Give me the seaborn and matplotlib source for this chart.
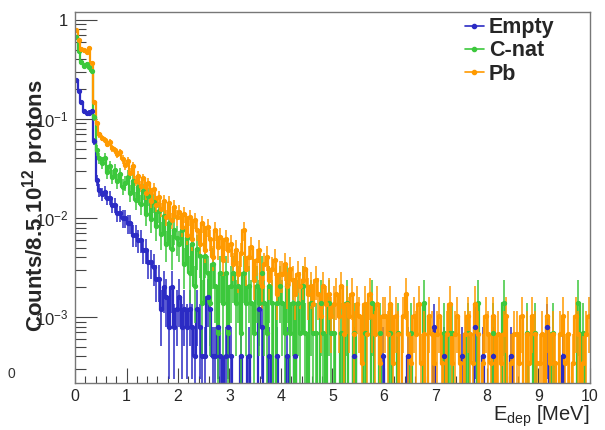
import numpy as np
import pandas as pd
import matplotlib
matplotlib.use("Agg")
import matplotlib.pyplot as plt
from matplotlib.lines import Line2D
from matplotlib.ticker import FixedLocator, MultipleLocator, NullFormatter
import seaborn as sns

# === 1. Data: raw counts per 0.05 MeV bin (0-10 MeV) ===
pb_counts = [
    2350, 1850, 1500, 1450, 1400, 1520, 1090, 440, 265, 205, 188, 180, 165, 172, 150, 142, 130, 135, 115, 100,
    110, 84, 98, 70, 78, 62, 74, 52, 66, 44, 58, 40, 48, 36, 44, 30, 42, 28, 38, 30,
    34, 24, 32, 20, 30, 18, 28, 22, 16, 26, 14, 24, 18, 12, 22, 15, 19, 11, 18, 14,
    16, 10, 14, 8, 13, 22, 9, 12, 15, 7, 11, 14, 6, 10, 12, 7, 9, 11, 5, 8,
    8, 10, 6, 9, 7, 5, 8, 6, 7, 9, 5, 6, 4, 7, 5, 3, 6, 4, 5, 3,
    4, 5, 3, 6, 2, 4, 3, 5, 2, 4, 3, 1, 4, 2, 5, 3, 2, 4, 1, 3,
    3, 2, 4, 1, 3, 2, 0, 3, 5, 2, 1, 3, 2, 4, 1, 2, 0, 3, 2, 1,
    2, 3, 1, 0, 2, 4, 1, 2, 3, 1, 0, 2, 3, 2, 1, 4, 2, 0, 1, 3,
    2, 1, 3, 0, 2, 1, 2, 3, 0, 1, 2, 2, 1, 3, 0, 2, 1, 3, 2, 1,
    1, 2, 0, 3, 1, 2, 1, 0, 2, 3, 1, 2, 0, 1, 3, 2, 0, 1, 2, 3,
]
cnat_counts = [
    970, 700, 540, 500, 520, 480, 440, 150, 70, 58, 52, 58, 42, 48, 38, 44, 34, 40, 30, 33,
    38, 26, 34, 22, 30, 20, 27, 16, 24, 14, 21, 12, 17, 10, 15, 8, 13, 7, 11, 9,
    8, 11, 5, 9, 4, 8, 3, 7, 6, 2, 6, 4, 2, 5, 3, 1, 4, 2, 4, 1,
    3, 4, 2, 3, 1, 4, 2, 3, 2, 1, 3, 2, 4, 2, 1, 3, 2, 0, 2, 3,
    2, 1, 3, 1, 2, 0, 2, 1, 3, 1, 0, 2, 1, 1, 0, 2, 1, 0, 2, 1,
    1, 0, 0, 1, 0, 2, 0, 0, 1, 0, 0, 0, 1, 0, 0, 2, 0, 0, 1, 0,
    0, 0, 1, 0, 0, 1, 0, 0, 0, 0, 1, 0, 0, 0, 0, 2, 0, 0, 0, 0,
    0, 0, 0, 1, 0, 1, 1, 0, 0, 0, 0, 0, 1, 0, 0, 0, 2, 0, 0, 0,
    0, 0, 1, 0, 0, 0, 2, 0, 0, 0, 0, 0, 0, 0, 0, 1, 0, 0, 1, 0,
    0, 0, 0, 0, 0, 1, 0, 0, 0, 0, 0, 0, 0, 0, 0, 2, 0, 1, 0, 0,
]
empty_counts = [
    620, 480, 370, 300, 285, 290, 300, 150, 60, 48, 44, 46, 40, 40, 34, 34, 28, 28, 25, 25,
    22, 22, 17, 17, 15, 15, 12, 12, 9, 9, 8, 6, 6, 3, 5, 4, 2, 5, 2, 3,
    4, 2, 3, 2, 3, 2, 1, 3, 2, 1, 1, 4, 3, 1, 1, 2, 1, 0, 1, 2,
    1, 0, 0, 0, 1, 0, 0, 1, 0, 0, 0, 3, 2, 0, 0, 1, 0, 0, 1, 0,
    0, 0, 1, 0, 0, 1, 0, 0, 0, 0, 0, 0, 0, 0, 0, 0, 0, 0, 0, 0,
    0, 0, 0, 0, 0, 0, 0, 0, 1, 0, 0, 0, 0, 0, 0, 0, 0, 0, 0, 1,
    0, 0, 0, 0, 0, 0, 0, 0, 0, 1, 0, 0, 0, 0, 0, 0, 0, 0, 0, 2,
    0, 0, 0, 1, 0, 0, 0, 0, 0, 0, 1, 0, 0, 0, 0, 2, 0, 0, 1, 0,
    0, 0, 1, 0, 0, 0, 0, 0, 0, 1, 0, 0, 0, 0, 0, 0, 0, 0, 0, 0,
    0, 0, 0, 2, 0, 0, 0, 0, 0, 1, 0, 0, 0, 0, 0, 0, 0, 0, 0, 0,
]

# normalisation (value of one count) per target
norms = {"Empty": 4.0e-4, "C-nat": 6.9e-4, "Pb": 3.4e-4}
colors = {"Empty": "#2b2bc4", "C-nat": "#3cc83c", "Pb": "#ff9a00"}
series = {"Empty": empty_counts, "C-nat": cnat_counts, "Pb": pb_counts}

bin_width = 0.05
edges = np.linspace(0, 10, 201)
centers = 0.5 * (edges[:-1] + edges[1:])

# === 2. Style ===
sns.set_theme(style="white")
plt.rcParams["font.family"] = ["Liberation Sans", "DejaVu Sans"]
plt.rcParams["mathtext.fontset"] = "custom"
plt.rcParams["mathtext.rm"] = "Liberation Sans"
plt.rcParams["mathtext.bf"] = "Liberation Sans:bold"
plt.rcParams["mathtext.it"] = "Liberation Sans:italic"

fig = plt.figure(figsize=(6.05, 4.30), dpi=100)
ax = fig.add_axes([0.124, 0.109, 0.851, 0.863])
ax.set_yscale("log")

# === 3. Histograms: step line + points with error bars ===
for name, counts in series.items():
    n = np.array(counts, dtype=float)
    df = pd.DataFrame({"E": centers, "w": n * norms[name]})
    sns.histplot(data=df, x="E", weights="w", binwidth=bin_width, binrange=(0, 10),
                 element="step", fill=False, color=colors[name], linewidth=1.6, ax=ax)
    nz = n > 0
    ax.errorbar(centers[nz], n[nz] * norms[name], yerr=np.sqrt(n[nz]) * norms[name],
                fmt="o", ms=2.8, color=colors[name], elinewidth=1.1, capsize=0)

ax.set_xlim(0, 10)
ax.set_ylim(2.15e-4, 1.2)

# === 4. Axes cosmetics (ROOT-like) ===
ax.yaxis.set_major_locator(FixedLocator([1e-3, 1e-2, 1e-1, 1]))
ax.set_yticklabels([r"$10^{-3}$", r"$10^{-2}$", r"$10^{-1}$", "1"])
ax.yaxis.set_minor_locator(FixedLocator(
    [m * 10.0 ** e for e in range(-4, 1) for m in range(2, 10)]))
ax.yaxis.set_minor_formatter(NullFormatter())
ax.xaxis.set_major_locator(MultipleLocator(1))
ax.xaxis.set_minor_locator(MultipleLocator(0.2))
ax.tick_params(axis="both", which="both", left=True, bottom=True, direction="in",
               color="#444444", width=0.8)
ax.tick_params(axis="x", which="major", length=11, labelsize=11.5, pad=4)
ax.tick_params(axis="x", which="minor", length=5)
ax.tick_params(axis="y", which="major", length=16, labelsize=12, pad=5)
ax.tick_params(axis="y", which="minor", length=8)
for s in ax.spines.values():
    s.set_color("#777777")
    s.set_linewidth(1.0)
ax.set_ylabel("")

ax.set_xlabel(r"E$_{\mathregular{dep}}$ [MeV]", fontsize=14.5, loc="right", labelpad=0)
fig.text(0.058, 0.523, r"Counts/8.5 $\mathbf{10}^{\mathbf{12}}$ protons", fontsize=16,
         fontweight="bold", rotation=90, ha="center", va="center")

handles = [Line2D([], [], color=colors[k], marker="o", ms=3, lw=1.2) for k in series]
ax.legend(handles, list(series.keys()), loc="upper left", bbox_to_anchor=(0.737, 1.015),
          frameon=False, borderpad=0, handlelength=0.85, handletextpad=0.25,
          labelspacing=0.1, prop={"weight": "bold", "size": 15.5})

fig.text(0.012, 0.122, "0", fontsize=10, color="#333333")

plt.savefig("out.png", dpi=100)
